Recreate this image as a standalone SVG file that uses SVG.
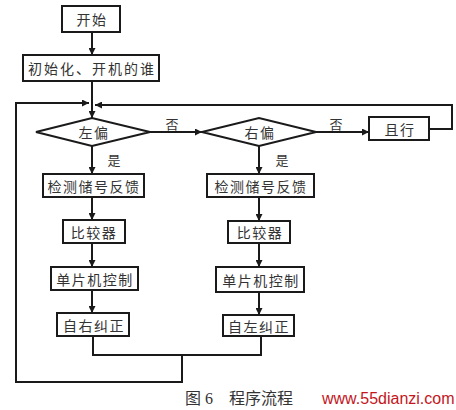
<svg xmlns="http://www.w3.org/2000/svg" width="456" height="410" viewBox="0 0 456 410">
<style>
.box{fill:#fff;stroke:#1a1a1a;stroke-width:2}
.t{font-family:"Noto Sans CJK SC","Liberation Sans",sans-serif;font-size:14px;fill:#333;text-anchor:middle;dominant-baseline:central;letter-spacing:1.5px}
.lbl{font-family:"Noto Sans CJK SC","Liberation Sans",sans-serif;font-size:13px;fill:#333;text-anchor:middle;dominant-baseline:central}
.ln{fill:none;stroke:#1a1a1a;stroke-width:2}
</style>
<defs>
<marker id="ah" viewBox="0 0 10 10" refX="10" refY="5" markerWidth="8" markerHeight="7" markerUnits="userSpaceOnUse" orient="auto">
<path d="M0,0 L10,5 L0,10 z" fill="#1a1a1a"/>
</marker>
</defs>
<rect width="456" height="410" fill="#fff"/>
<g id="connectors">
<line class="ln" x1="92" y1="32" x2="92" y2="55" marker-end="url(#ah)"/>
<line class="ln" x1="92" y1="81" x2="92" y2="118" marker-end="url(#ah)"/>
<polyline class="ln" points="93,336 93,355 261,355 261,336"/>
<polyline class="ln" points="182,355 182,382 16,382 16,103 89,103" marker-end="url(#ah)"/>
<polyline class="ln" points="429,129 452,129 452,105 95,105" marker-end="url(#ah)"/>
<line class="ln" x1="150" y1="132" x2="202" y2="132" marker-end="url(#ah)"/>
<line class="ln" x1="316" y1="132" x2="369" y2="132" marker-end="url(#ah)"/>
<line class="ln" x1="92" y1="146" x2="92" y2="174" marker-end="url(#ah)"/>
<line class="ln" x1="259" y1="146" x2="259" y2="174" marker-end="url(#ah)"/>
<line class="ln" x1="92" y1="197" x2="92" y2="220" marker-end="url(#ah)"/>
<line class="ln" x1="92" y1="243" x2="92" y2="267" marker-end="url(#ah)"/>
<line class="ln" x1="92" y1="290" x2="92" y2="313" marker-end="url(#ah)"/>
<line class="ln" x1="259" y1="197" x2="259" y2="221" marker-end="url(#ah)"/>
<line class="ln" x1="259" y1="243" x2="259" y2="267" marker-end="url(#ah)"/>
<line class="ln" x1="259" y1="292" x2="259" y2="315" marker-end="url(#ah)"/>
<text class="lbl" x="172" y="123">否</text>
<text class="lbl" x="336" y="123">否</text>
<text class="lbl" x="114" y="159">是</text>
<text class="lbl" x="282" y="159">是</text>
</g>
<g id="start"><rect class="box" x="62" y="6" width="58" height="26"/><text class="t" x="92" y="19">开始</text></g>
<g id="init"><rect class="box" x="23" y="55" width="136" height="26"/><text class="t" x="92" y="68" style="letter-spacing:2px">初始化、开机的谁</text></g>
<g id="left-dev"><polygon class="box" points="36,132 92,118 150,132 92,146"/><text class="t" x="94" y="132">左偏</text></g>
<g id="right-dev"><polygon class="box" points="202,132 259,118 316,132 259,146"/><text class="t" x="260" y="132">右偏</text></g>
<g id="straight"><rect class="box" x="369" y="117" width="60" height="23"/><text class="t" x="400" y="128.5">且行</text></g>
<g id="l-detect"><rect class="box" x="43" y="174" width="101" height="23"/><text class="t" x="94" y="185.5">检测储号反馈</text></g>
<g id="r-detect"><rect class="box" x="207" y="174" width="107" height="23"/><text class="t" x="261" y="185.5">检测储号反馈</text></g>
<g id="l-cmp"><rect class="box" x="63" y="220" width="62" height="23"/><text class="t" x="94" y="231.5">比较器</text></g>
<g id="r-cmp"><rect class="box" x="228" y="221" width="62" height="22"/><text class="t" x="260" y="232">比较器</text></g>
<g id="l-mcu"><rect class="box" x="51" y="267" width="87" height="23"/><text class="t" x="95" y="278.5">单片机控制</text></g>
<g id="r-mcu"><rect class="box" x="216" y="267" width="88" height="25"/><text class="t" x="261" y="279.5">单片机控制</text></g>
<g id="l-fix"><rect class="box" x="57" y="313" width="72" height="23"/><text class="t" x="94" y="324.5">自右纠正</text></g>
<g id="r-fix"><rect class="box" x="223" y="315" width="71" height="21"/><text class="t" x="259" y="325.5">自左纠正</text></g>
<g id="caption">
<text x="185" y="398" style="font-family:'Liberation Serif','Noto Sans CJK SC',serif;font-size:16px;fill:#333;dominant-baseline:central">图 6　程序流程</text>
<text x="322" y="398" style="font-family:'Liberation Sans',sans-serif;font-size:16px;fill:#c4161c;dominant-baseline:central">www.55dianzi.com</text>
</g>
</svg>
